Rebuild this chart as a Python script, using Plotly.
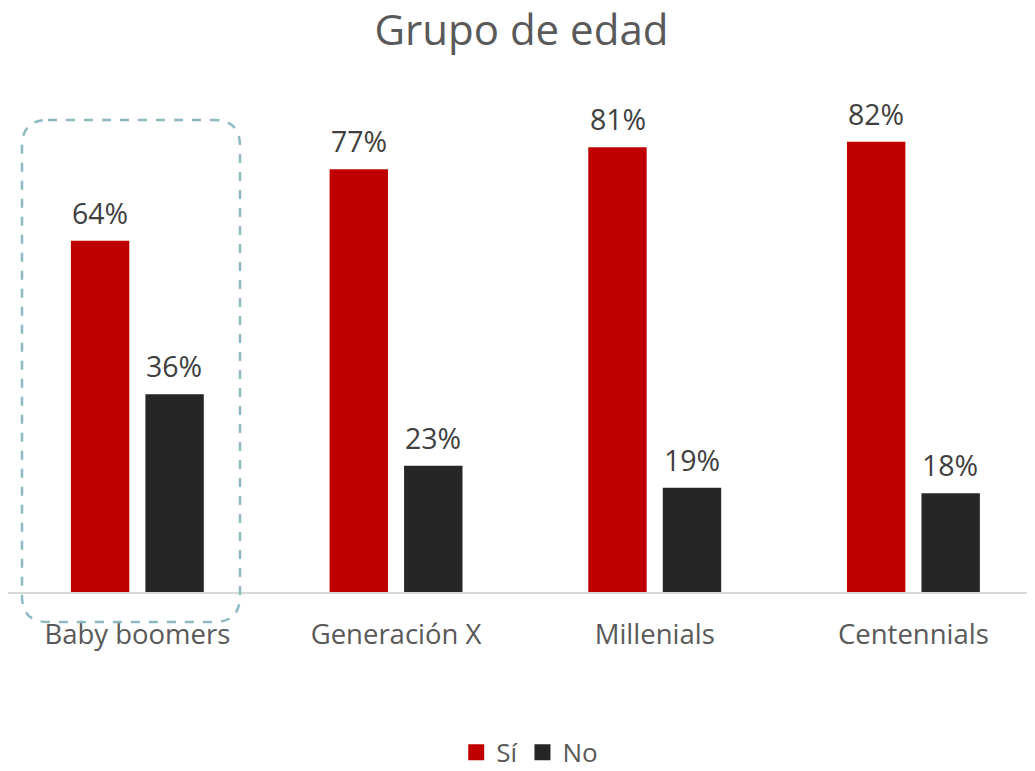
import plotly.graph_objects as go

categories = ["Baby boomers", "Generación X", "Millenials", "Centennials"]
si_values = [0.64, 0.77, 0.81, 0.82]
no_values = [0.36, 0.23, 0.19, 0.18]
series_names = ["Sí", "No"]
colors = ["#C00000", "#262626"]

# the page adds an 8px body margin, so the figure is sized to fit the viewport
W, H = 1027, 763
L, R_px, T, B_px = 0, 1027, 35, 584  # plot area in figure pixels

FONT = "Open Sans"

fig = go.Figure()
shifts = [-37, 37]
for name, vals, col, xs in zip(series_names, [si_values, no_values], colors, shifts):
    fig.add_trace(go.Bar(
        x=categories, y=vals, name=name, marker_color=col,
        marker_line_width=0, showlegend=False,
    ))
    fig.add_trace(go.Scatter(
        x=[None], y=[None], mode="markers", name=name,
        marker=dict(symbol="square", size=18, color=col),
        showlegend=True,
    ))
    for c, v in zip(categories, vals):
        fig.add_annotation(x=c, y=v, xref="x", yref="y", text=f"{round(v*100)}%",
                           showarrow=False, xshift=xs, yshift=7, yanchor="bottom",
                           font=dict(family=FONT, size=28.5, color="#404040"))

def px_x(p):
    return (p - L) / (R_px - L)

def px_y(p):
    return (B_px - p) / (B_px - T)

# dashed highlight box (figure pixels)
x0, x1, y0, y1, r = 14, 232, 112, 614, 26
path = (
    f"M {px_x(x0 + r)},{px_y(y0)} L {px_x(x1 - r)},{px_y(y0)} "
    f"Q {px_x(x1)},{px_y(y0)} {px_x(x1)},{px_y(y0 + r)} "
    f"L {px_x(x1)},{px_y(y1 - r)} "
    f"Q {px_x(x1)},{px_y(y1)} {px_x(x1 - r)},{px_y(y1)} "
    f"L {px_x(x0 + r)},{px_y(y1)} "
    f"Q {px_x(x0)},{px_y(y1)} {px_x(x0)},{px_y(y1 - r)} "
    f"L {px_x(x0)},{px_y(y0 + r)} "
    f"Q {px_x(x0)},{px_y(y0)} {px_x(x0 + r)},{px_y(y0)} Z"
)
fig.add_shape(type="path", path=path, xref="paper", yref="paper",
              line=dict(color="#8DB9C1", width=2.5, dash="dash"), layer="above")

fig.update_layout(
    width=W, height=H,
    margin=dict(l=L, r=W - R_px, t=T, b=H - B_px, autoexpand=False),
    paper_bgcolor="white", plot_bgcolor="white",
    barmode="group", bargap=0.424, bargroupgap=0.216,
    title=dict(text="Grupo de edad", x=0.5, xanchor="center", y=1 - 22 / H, yanchor="middle",
               font=dict(family=FONT, size=42, color="#595959")),
    font=dict(family=FONT, color="#595959"),
    legend=dict(orientation="h", x=0.508, xanchor="center", y=-0.292, yanchor="middle",
                font=dict(family=FONT, size=26, color="#595959"),
                itemsizing="trace", itemwidth=30, tracegroupgap=0),
    xaxis=dict(range=[-0.5, 3.47], showline=True, linecolor="#D9D9D9", linewidth=1.5,
               ticks="", tickfont=dict(family=FONT, size=27.5, color="#595959"),
               ticklabelstandoff=17, showgrid=False, zeroline=False),
    yaxis=dict(range=[0, 1], visible=False, showgrid=False, zeroline=False),
)

fig.write_html("out.html")
